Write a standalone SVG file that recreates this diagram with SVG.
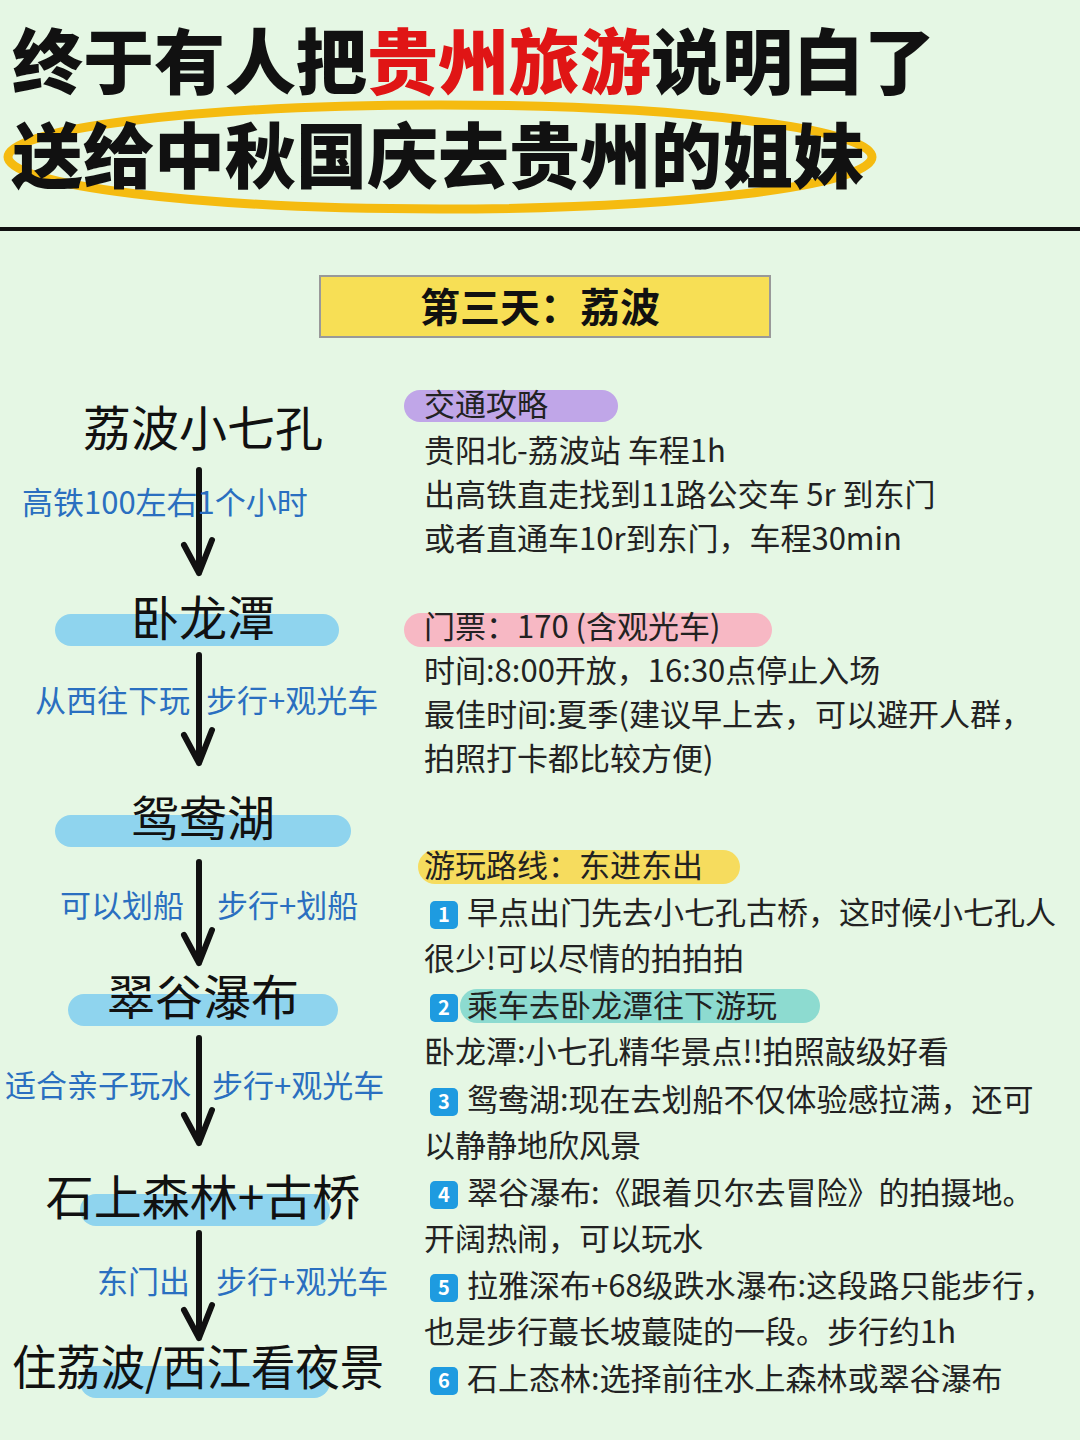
<svg xmlns="http://www.w3.org/2000/svg" width="1080" height="1440" viewBox="0 0 1080 1440">
<style>
text{font-family:"Noto Sans CJK SC","Noto Sans",sans-serif}
.t{font-size:71px;font-weight:900;fill:#111}
.n{font-size:48px;fill:#111}
.l{font-size:31px;fill:#2a6fc0}
.b{font-size:31px;fill:#222}
.bar{fill:#8fd4ee}
.badge{fill:#1e9be0}
.bn{font-size:20px;font-weight:700;fill:#fff}
.ar{stroke:#111;stroke-width:6;fill:none;stroke-linecap:round;stroke-linejoin:round}
</style>
<rect width="1080" height="1440" fill="#e5f7e4"/>
<g id="title">
<ellipse cx="440" cy="157" rx="432" ry="52" fill="none" stroke="#f5bb10" stroke-width="9"/>
<text x="12" y="88" class="t">终于有人把<tspan fill="#e01515">贵州旅游</tspan>说明白了</text>
<text x="12" y="182" class="t">送给中秋国庆去贵州的姐妹</text>
<line x1="0" y1="229" x2="1080" y2="229" stroke="#111" stroke-width="4"/>
</g>
<g id="day">
<rect x="320" y="276" width="450" height="61" fill="#f7df55" stroke="#999" stroke-width="2"/>
<text x="540" y="322" text-anchor="middle" font-size="40" font-weight="700" fill="#111">第三天：荔波</text>
</g>
<g id="n1"><text x="203" y="446" text-anchor="middle" class="n">荔波小七孔</text></g>
<g id="n2"><rect class="bar" x="55" y="614" width="284" height="32" rx="16"/><text x="203" y="636" text-anchor="middle" class="n">卧龙潭</text></g>
<g id="n3"><rect class="bar" x="55" y="815" width="296" height="32" rx="16"/><text x="203" y="836" text-anchor="middle" class="n">鸳鸯湖</text></g>
<g id="n4"><rect class="bar" x="68" y="994" width="270" height="32" rx="16"/><text x="203" y="1015" text-anchor="middle" class="n">翠谷瀑布</text></g>
<g id="n5"><rect class="bar" x="80" y="1194" width="250" height="32" rx="16"/><text x="203" y="1215" text-anchor="middle" class="n">石上森林+古桥</text></g>
<g id="n6"><rect class="bar" x="80" y="1366" width="250" height="32" rx="16"/><text x="198" y="1385" text-anchor="middle" class="n" font-size="45" textLength="372" lengthAdjust="spacingAndGlyphs">住荔波/西江看夜景</text></g>
<g id="connectors">
<path class="ar" d="M199 470 V573 M184 545 L199 573 L212 540"/>
<path class="ar" d="M199 655 V763 M184 735 L199 763 L212 730"/>
<path class="ar" d="M199 862 V963 M184 935 L199 963 L212 930"/>
<path class="ar" d="M199 1038 V1143 M184 1115 L199 1143 L212 1110"/>
<path class="ar" d="M199 1233 V1338 M184 1310 L199 1338 L212 1305"/>
<text x="22" y="514" class="l">高铁100左右1个小时</text>
<text x="35" y="712" class="l">从西往下玩</text><text x="206" y="712" class="l">步行+观光车</text>
<text x="60" y="917" class="l">可以划船</text><text x="217" y="917" class="l">步行+划船</text>
<text x="5" y="1097" class="l">适合亲子玩水</text><text x="212" y="1097" class="l">步行+观光车</text>
<text x="97" y="1293" class="l">东门出</text><text x="216" y="1293" class="l">步行+观光车</text>
</g>
<g id="transport">
<rect x="404" y="390" width="214" height="32" rx="16" fill="#c0a6e8"/>
<text x="424" y="416" class="b">交通攻略</text>
<text x="424" y="462" class="b">贵阳北-荔波站 车程1h</text>
<text x="424" y="506" class="b">出高铁直走找到11路公交车 5r 到东门</text>
<text x="424" y="550" class="b">或者直通车10r到东门，车程30min</text>
</g>
<g id="ticket">
<rect x="404" y="613" width="368" height="34" rx="17" fill="#f7b8c4"/>
<text x="424" y="638" class="b">门票：170 (含观光车)</text>
<text x="424" y="682" class="b">时间:8:00开放，16:30点停止入场</text>
<text x="424" y="726" class="b">最佳时间:夏季(建议早上去，可以避开人群，</text>
<text x="424" y="770" class="b">拍照打卡都比较方便)</text>
</g>
<g id="route">
<rect x="418" y="850" width="322" height="34" rx="17" fill="#f6dc5e"/>
<text x="424" y="877" class="b">游玩路线：东进东出</text>
<rect class="badge" x="430" y="901" width="28" height="28" rx="5"/><text x="444" y="922" text-anchor="middle" class="bn">1</text>
<text x="467" y="924" class="b">早点出门先去小七孔古桥，这时候小七孔人</text>
<text x="424" y="970" class="b">很少!可以尽情的拍拍拍</text>
<rect x="460" y="989" width="360" height="34" rx="17" fill="#8ddbd0"/>
<rect class="badge" x="430" y="994" width="28" height="28" rx="5"/><text x="444" y="1015" text-anchor="middle" class="bn">2</text>
<text x="467" y="1017" class="b">乘车去卧龙潭往下游玩</text>
<text x="424" y="1063" class="b">卧龙潭:小七孔精华景点!!拍照敲级好看</text>
<rect class="badge" x="430" y="1088" width="28" height="28" rx="5"/><text x="444" y="1109" text-anchor="middle" class="bn">3</text>
<text x="467" y="1111" class="b">鸳鸯湖:现在去划船不仅体验感拉满，还可</text>
<text x="424" y="1157" class="b">以静静地欣风景</text>
<rect class="badge" x="430" y="1181" width="28" height="28" rx="5"/><text x="444" y="1202" text-anchor="middle" class="bn">4</text>
<text x="467" y="1204" class="b">翠谷瀑布:《跟着贝尔去冒险》的拍摄地。</text>
<text x="424" y="1250" class="b">开阔热闹，可以玩水</text>
<rect class="badge" x="430" y="1274" width="28" height="28" rx="5"/><text x="444" y="1295" text-anchor="middle" class="bn">5</text>
<text x="467" y="1297" class="b">拉雅深布+68级跌水瀑布:这段路只能步行，</text>
<text x="424" y="1343" class="b">也是步行蕞长坡蕞陡的一段。步行约1h</text>
<rect class="badge" x="430" y="1367" width="28" height="28" rx="5"/><text x="444" y="1388" text-anchor="middle" class="bn">6</text>
<text x="467" y="1390" class="b">石上态林:选择前往水上森林或翠谷瀑布</text>
</g>
</svg>
